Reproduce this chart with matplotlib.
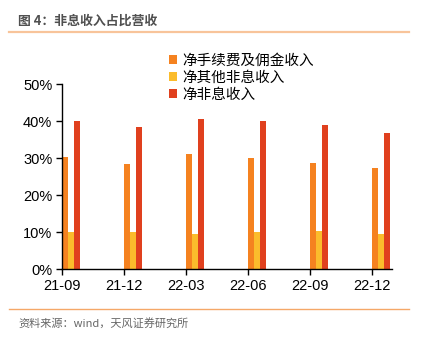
import numpy as np
import matplotlib.pyplot as plt
from matplotlib.lines import Line2D

plt.rcParams['font.family'] = ['Liberation Sans', 'Noto Sans CJK SC', 'DejaVu Sans']

# data (percent)
periods = ["21-09", "21-12", "22-03", "22-06", "22-09", "22-12"]
fee_income = [30.2, 28.5, 31.2, 30.0, 28.7, 27.4]      # 净手续费及佣金收入
other_income = [9.9, 9.9, 9.5, 10.1, 10.2, 9.4]       # 净其他非息收入
nonint_income = [40.1, 38.5, 40.7, 40.1, 39.0, 36.8]  # 净非息收入
labels = ["净手续费及佣金收入", "净其他非息收入", "净非息收入"]
colors = ["#F58220", "#FBBC2C", "#E0401E"]

fig = plt.figure(figsize=(4.28, 3.38), dpi=100)
ax = fig.add_axes([0.145, 0.204, 0.771, 0.547])

x = np.arange(len(periods))
w = 0.097
series = [fee_income, other_income, nonint_income]
bars = []
for k, (vals, col, lab) in enumerate(zip(series, colors, labels)):
    b = ax.bar(x + k * w, vals, width=w, align='edge', color=col, label=lab)
    bars.append(b)

ax.set_xlim(0, 5.32)
ax.set_ylim(0, 50)
ax.set_xticks(x)
ax.set_xticklabels(periods, fontsize=10.5)
ax.set_yticks(np.arange(0, 51, 10))
ax.set_yticklabels([f"{v}%" for v in range(0, 51, 10)], fontsize=10.5)
for s in ['top', 'right']:
    ax.spines[s].set_visible(False)
for s in ['left', 'bottom']:
    ax.spines[s].set_linewidth(1.0)
ax.tick_params(direction='out', length=4, width=1.0, pad=3)

leg = ax.legend(handles=bars, loc='upper left', bbox_to_anchor=(0.378, 0.863),
                bbox_transform=fig.transFigure, frameon=False,
                prop={'family': ['Noto Sans CJK SC'], 'size': 10.5},
                handlelength=0.55, handleheight=0.55, handletextpad=0.35,
                labelspacing=0.22, borderpad=0)

# header / footer decoration
fig.text(0.042, 0.94, "图 4：非息收入占比营收", fontsize=9.3, fontweight='bold',
         color='#505050', va='center', family=['Noto Sans CJK SC'])
fig.add_artist(Line2D([0.021, 0.956], [0.906, 0.906], transform=fig.transFigure,
                      color='#F8C49A', lw=1.6))
fig.add_artist(Line2D([0.021, 0.956], [0.086, 0.086], transform=fig.transFigure,
                      color='#F5A868', lw=1.0))
fig.text(0.042, 0.044, "资料来源：wind，天风证券研究所", fontsize=8,
         color='#666666', va='center', family=['Noto Sans CJK SC'])

plt.savefig("out.png", dpi=100)
